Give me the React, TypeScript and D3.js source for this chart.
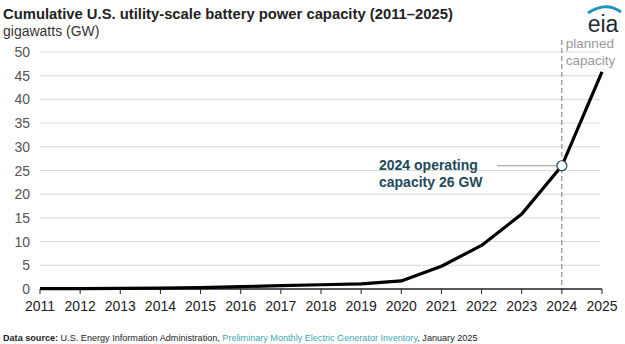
import React from "react";
import * as d3 from "d3";

const years = [2011, 2012, 2013, 2014, 2015, 2016, 2017, 2018, 2019, 2020, 2021, 2022, 2023, 2024, 2025];
const capacity = [0.1, 0.1, 0.15, 0.2, 0.3, 0.5, 0.7, 0.9, 1.1, 1.7, 4.8, 9.2, 15.8, 26, 45.8];
const yTicks = [0, 5, 10, 15, 20, 25, 30, 35, 40, 45, 50];

const W = 625, H = 344;
const margin = { left: 40, right: 23, top: 52, bottom: 55 };

export default function App() {
  const x = d3.scaleLinear().domain([2011, 2025]).range([margin.left, W - margin.right]);
  const y = d3.scaleLinear().domain([0, 50]).range([H - margin.bottom, margin.top]);
  const data = years.map((yr, i) => ({ yr, v: capacity[i] }));
  const line = d3.line<{ yr: number; v: number }>().x(d => x(d.yr)).y(d => y(d.v));
  const font = "Arial, 'Liberation Sans', sans-serif";
  const x24 = x(2024), y24 = y(26);
  return (
    <svg width={W} height={H} style={{ position: "absolute", left: 0, top: 0, fontFamily: font }}>
      <rect width={W} height={H} fill="#fff" />
      <text x={3} y={19} fontSize={14.8} fontWeight="bold" fill="#222">Cumulative U.S. utility-scale battery power capacity (2011–2025)</text>
      <text x={3} y={36} fontSize={14} fill="#333">gigawatts (GW)</text>
      {/* eia logo */}
      <path d="M 588 13 Q 606 1 621 12" stroke="#1b95c0" strokeWidth={3} fill="none" />
      <text x={603} y={32} fontSize={23} fill="#1d2b36" textAnchor="middle">eia</text>
      {yTicks.map(t => (
        <g key={t}>
          {t > 0 && <line x1={margin.left} x2={W - margin.right - 2} y1={y(t)} y2={y(t)} stroke="#d9d9d9" strokeWidth={1} />}
          <text x={30} y={y(t) + 5} fontSize={14} fill="#555" textAnchor="end">{t}</text>
        </g>
      ))}
      <line x1={x24} x2={x24} y1={margin.top - 12} y2={y(0)} stroke="#777" strokeWidth={1} strokeDasharray="5,3" />
      <text x={x24 + 4} y={48} fontSize={13.5} fill="#999">planned</text>
      <text x={x24 + 4} y={65} fontSize={13.5} fill="#999">capacity</text>
      <line x1={margin.left} x2={W - margin.right} y1={y(0)} y2={y(0)} stroke="#222" strokeWidth={1.5} />
      {years.map(yr => (
        <g key={yr}>
          <line x1={x(yr)} x2={x(yr)} y1={y(0)} y2={y(0) + 5} stroke="#222" strokeWidth={1} />
          <text x={x(yr)} y={y(0) + 22} fontSize={14} fill="#222" textAnchor="middle">{yr}</text>
        </g>
      ))}
      <path d={line(data) || ""} fill="none" stroke="#000" strokeWidth={3.2} strokeLinejoin="round" />
      <line x1={497} x2={x24 - 5} y1={y24} y2={y24} stroke="#999" strokeWidth={1} />
      <circle cx={x24} cy={y24} r={5} fill="#fff" stroke="#1f4a5c" strokeWidth={1.2} />
      <text x={379} y={170} fontSize={14} fontWeight="bold" fill="#1f4a5c">2024 operating</text>
      <text x={379} y={187} fontSize={14} fontWeight="bold" fill="#1f4a5c">capacity 26 GW</text>
      <text x={3} y={341} fontSize={9.1} fill="#222">
        <tspan fontWeight="bold">Data source:</tspan>
        <tspan> U.S. Energy Information Administration, </tspan>
        <tspan fill="#3fa6b3">Preliminary Monthly Electric Generator Inventory</tspan>
        <tspan>, January 2025</tspan>
      </text>
    </svg>
  );
}
